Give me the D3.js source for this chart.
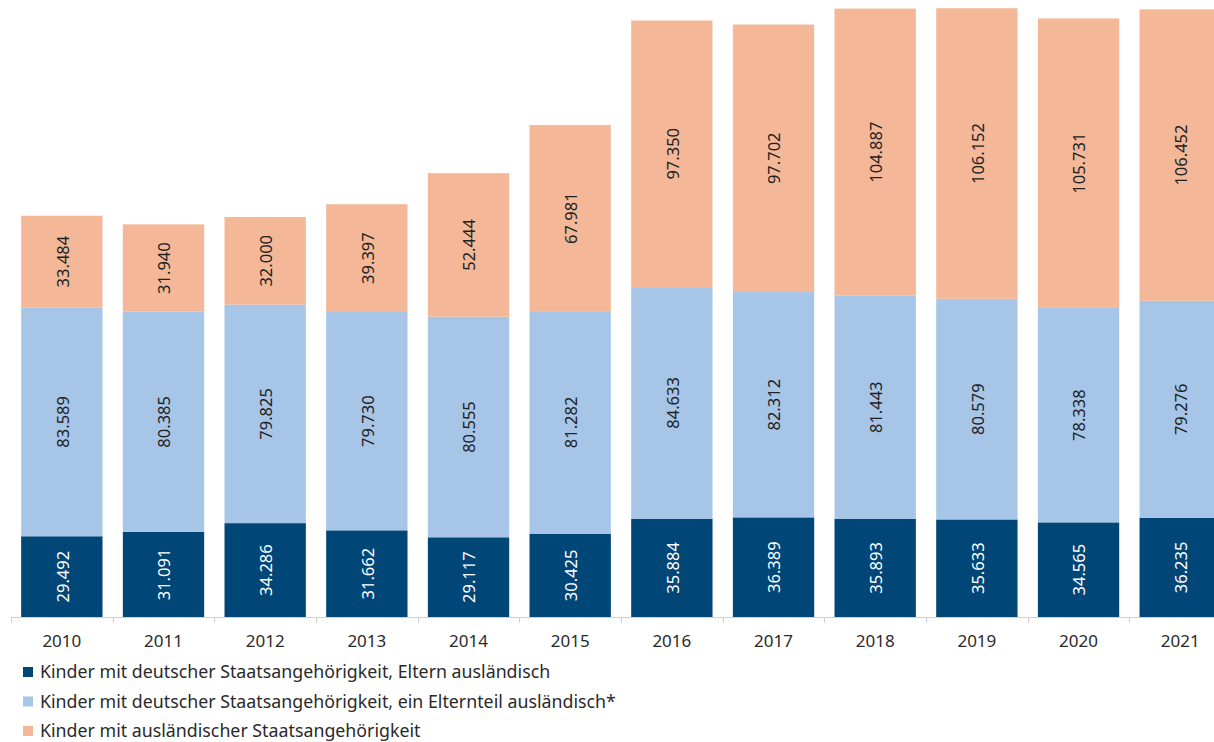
<!DOCTYPE html>
<html><head><meta charset="utf-8">
<script src="https://cdn.jsdelivr.net/npm/d3@7"></script>
<style>body{margin:0;background:#fff}svg{display:block}</style>
</head><body>
<svg id="c" width="1214" height="742"></svg>
<script>
const years = ["2010","2011","2012","2013","2014","2015","2016","2017","2018","2019","2020","2021"];
const dtEltern = [29492,31091,34286,31662,29117,30425,35884,36389,35893,35633,34565,36235];
const dtEinElternteil = [83589,80385,79825,79730,80555,81282,84633,82312,81443,80579,78338,79276];
const auslaendisch = [33484,31940,32000,39397,52444,67981,97350,97702,104887,106152,105731,106452];
const seriesNames = ["Kinder mit deutscher Staatsangehörigkeit, Eltern ausländisch",
  "Kinder mit deutscher Staatsangehörigkeit, ein Elternteil ausländisch*",
  "Kinder mit ausländischer Staatsangehörigkeit"];
const colors = ["#004677","#a6c5e7","#f4b898"];
const labelColors = ["#ffffff","#222222","#222222"];

const font = "'Noto Sans', sans-serif";
const svg = d3.select("#c");
const loc = d3.formatLocale({decimal:",",thousands:".",grouping:[3],currency:["","€"]});
const fmt = loc.format(",d");

const rows = years.map((y,i)=>({year:y, s0:dtEltern[i], s1:dtEinElternteil[i], s2:auslaendisch[i]}));
const stack = d3.stack().keys(["s0","s1","s2"])(rows);

const x = d3.scaleBand().domain(years).range([11, 11+12*101.67]).paddingInner(0.2).paddingOuter(0.1);
const y = d3.scaleLinear().domain([0,225000]).range([617,1]);

const g = svg.append("g");
stack.forEach((layer,k)=>{
  g.selectAll(null).data(layer).enter().append("rect")
    .attr("x",d=>x(d.data.year)).attr("width",x.bandwidth())
    .attr("y",d=>y(d[1])).attr("height",d=>y(d[0])-y(d[1]))
    .attr("fill",colors[k]);
  g.selectAll(null).data(layer).enter().append("text")
    .attr("transform",d=>`translate(${x(d.data.year)+x.bandwidth()/2+1},${(y(d[0])+y(d[1]))/2}) rotate(-90)`)
    .attr("text-anchor","middle").attr("dy","0.35em")
    .attr("font-family",font).attr("font-size",16.5)
    .attr("fill",labelColors[k])
    .text(d=>fmt(d[1]-d[0]));
});

// x axis with ticks at category boundaries
const axisG = svg.append("g");
axisG.append("line").attr("x1",11).attr("x2",1214).attr("y1",617.5).attr("y2",617.5).attr("stroke","#cfcfcf").attr("stroke-width",1);
const step = x.step();
const bounds = d3.range(years.length+1).map(i=>x(years[0]) - step*0.1 + i*step);
axisG.selectAll(null).data(bounds).enter().append("line")
  .attr("x1",d=>Math.round(d)+0.5).attr("x2",d=>Math.round(d)+0.5).attr("y1",617).attr("y2",623)
  .attr("stroke","#cfcfcf");
axisG.selectAll(null).data(years).enter().append("text")
  .attr("x",d=>x(d)+x.bandwidth()/2).attr("y",647)
  .attr("text-anchor","middle").attr("font-family",font).attr("font-size",17).attr("fill","#2a2a2a")
  .text(d=>d);

// legend
const leg = svg.append("g");
seriesNames.forEach((n,i)=>{
  const yy = 672 + i*29.5;
  leg.append("rect").attr("x",23).attr("y",yy-5).attr("width",10).attr("height",10).attr("fill",colors[i]);
  leg.append("text").attr("x",40).attr("y",yy).attr("dy","0.35em")
    .attr("font-family",font).attr("font-size",17.8).attr("fill","#2a2a2a").text(n);
});
</script>
</body></html>
